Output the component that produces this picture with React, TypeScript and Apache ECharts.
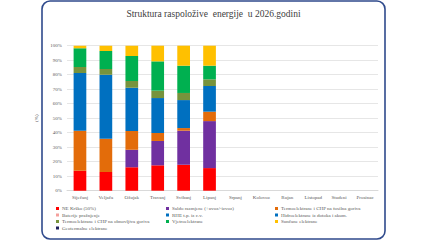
import React, { useEffect, useRef } from "react";
import * as echarts from "echarts";

const months = ["Siječanj", "Veljača", "Ožujak", "Travanj", "Svibanj", "Lipanj", "Srpanj", "Kolovoz", "Rujan", "Listopad", "Studeni", "Prosinac"];

const neKrsko = [13.8, 12.9, 16.1, 17.5, 17.9, 15.6, null, null, null, null, null, null];
const saldo = [0, 0, 12.2, 16.8, 23.5, 32.4, null, null, null, null, null, null];
const termoFosil = [27.6, 23.0, 12.8, 5.5, 1.8, 6.5, null, null, null, null, null, null];
const baterije = [0, 0, 0, 0, 0, 0, null, null, null, null, null, null];
const rhe = [0, 0, 0, 0, 0, 0, null, null, null, null, null, null];
const hidro = [39.7, 44.1, 29.9, 24.1, 19.3, 17.7, null, null, null, null, null, null];
const termoObn = [4.2, 3.9, 4.6, 5.1, 4.9, 4.6, null, null, null, null, null, null];
const vjetro = [12.9, 12.4, 17.3, 20.2, 18.8, 9.4, null, null, null, null, null, null];
const suncane = [1.8, 3.7, 7.1, 10.8, 13.8, 13.8, null, null, null, null, null, null];
const geoterm = [0, 0, 0, 0, 0, 0, null, null, null, null, null, null];

const seriesDefs = [
  { name: "NE Krško (50%)", data: neKrsko, color: "#FF0000" },
  { name: "Saldo razmjene (+uvoz/-izvoz)", data: saldo, color: "#7030A0" },
  { name: "Termoelektrane i CHP na fosilna goriva", data: termoFosil, color: "#E36C0A" },
  { name: "Baterije pražnjenje", data: baterije, color: "#F4A09C" },
  { name: "RHE t.p. iz c.v.", data: rhe, color: "#0070C0" },
  { name: "Hidroelektrane iz dotoka i akum.", data: hidro, color: "#0070C0" },
  { name: "Termoelektrane i CHP na obnovljiva goriva", data: termoObn, color: "#77933C" },
  { name: "Vjetroelektrane", data: vjetro, color: "#00B050" },
  { name: "Sunčane elektrane", data: suncane, color: "#FFC000" },
  { name: "Geotermalne elektrane", data: geoterm, color: "#1F1F5C" },
];

const legendCols = [
  ["NE Krško (50%)", "Baterije pražnjenje", "Termoelektrane i CHP na obnovljiva goriva", "Geotermalne elektrane"],
  ["Saldo razmjene (+uvoz/-izvoz)", "RHE t.p. iz c.v.", "Vjetroelektrane"],
  ["Termoelektrane i CHP na fosilna goriva", "Hidroelektrane iz dotoka i akum.", "Sunčane elektrane"],
];
const legendLefts = [56, 166, 275];

export default function App() {
  const ref = useRef<HTMLDivElement>(null);
  useEffect(() => {
    if (!ref.current) return;
    const chart = echarts.init(ref.current, null, { renderer: "svg" });
    const font = "'Liberation Serif', 'Times New Roman', serif";
    chart.setOption({
      animation: false,
      textStyle: { fontFamily: font },
      title: {
        text: "Struktura raspoložive  energije  u 2026.godini",
        left: "center",
        top: 4,
        textStyle: { fontFamily: font, fontSize: 9.5, fontWeight: "normal", color: "#404040" },
      },
      graphic: [
        {
          type: "rect",
          shape: { x: 42, y: 1, width: 343, height: 238, r: 8 },
          style: { fill: "none", stroke: "#2F4A8C", lineWidth: 1.6 },
          silent: true,
        },
      ],
      legend: legendCols.map((col, i) => ({
        data: col,
        orient: "vertical",
        left: legendLefts[i],
        top: 206,
        itemWidth: 3,
        itemHeight: 3,
        itemGap: 1.5,
        icon: "rect",
        padding: 0,
        textStyle: { fontFamily: font, fontSize: 5, color: "#595959", padding: [0, 0, 0, -2] },
      })),
      grid: { left: 67, right: 49, top: 45.7, bottom: 49.3, containLabel: false },
      xAxis: {
        type: "category",
        data: months,
        axisTick: { show: false },
        axisLine: { lineStyle: { color: "#D9D9D9" } },
        axisLabel: { fontFamily: font, fontSize: 5, color: "#595959", margin: 4, interval: 0 },
      },
      yAxis: {
        type: "value",
        min: 0,
        max: 100,
        interval: 10,
        name: "(%)",
        nameLocation: "middle",
        nameGap: 20,
        nameRotate: 90,
        nameTextStyle: { fontFamily: font, fontSize: 5, color: "#595959" },
        axisLabel: { formatter: "{value}%", fontFamily: font, fontSize: 5, color: "#595959", margin: 5 },
        splitLine: { lineStyle: { color: "#E6E6E6", width: 1 } },
        axisLine: { show: false },
        axisTick: { show: false },
      },
      series: seriesDefs.map((s) => ({
        name: s.name,
        type: "bar",
        stack: "total",
        data: s.data,
        barWidth: "49%",
        itemStyle: { color: s.color },
      })),
    });
    return () => chart.dispose();
  }, []);
  return <div ref={ref} style={{ position: "fixed", left: 0, top: 0, width: 427, height: 240, background: "#fff" }} />;
}
